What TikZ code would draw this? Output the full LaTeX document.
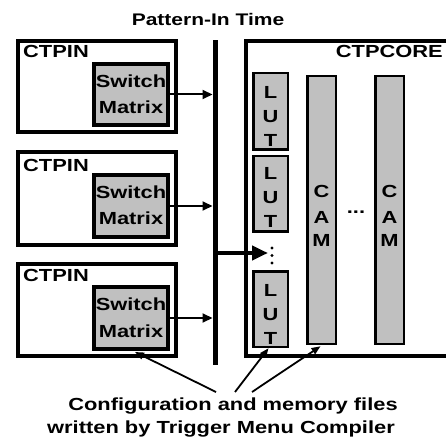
\documentclass[tikz,border=0pt]{standalone}
\usepackage{fontspec}
\setmainfont{Liberation Sans}[FakeStretch=1.25]
\usetikzlibrary{arrows.meta}
\definecolor{boxgray}{HTML}{C0C0C0}
\begin{document}
\begin{tikzpicture}[x=1pt,y=-1pt,
  txt/.style={font=\fontsize{17.5}{21}\selectfont\bfseries, inner sep=0pt, anchor=base},
  ttl/.style={font=\fontsize{16.8}{20}\selectfont\bfseries, inner sep=0pt, anchor=base},
  pinbox/.style={draw, line width=4pt, anchor=north west, inner sep=0pt, outer sep=0pt, minimum width=158pt},
  swbox/.style={draw, fill=boxgray, line width=4pt, anchor=north west, inner sep=0pt, outer sep=0pt, minimum width=74pt, minimum height=62pt},
  lutbox/.style={draw, fill=boxgray, line width=2.5pt, anchor=north west, inner sep=0pt, outer sep=0pt, minimum width=34.5pt, minimum height=75.5pt},
  cambox/.style={draw, fill=boxgray, line width=2.5pt, anchor=north west, inner sep=0pt, outer sep=0pt, minimum width=28.5pt, minimum height=267.5pt},
  thinarrow/.style={line width=2pt, -{Triangle[length=10pt,width=9pt]}},
  bigarrow/.style={line width=4.5pt, -{Triangle[length=16pt,width=14pt]}},
  cfgarrow/.style={line width=1.8pt, -{Triangle[length=9pt,width=7pt]}}]
\useasboundingbox (0,0) rectangle (446,443);

% title
\node[ttl] (title) at (208,26) {Pattern-In Time};

% CTPIN boxes
\node[pinbox, minimum height=91pt] (pin1) at (18,41.5) {};
\node[pinbox, minimum height=93pt] (pin2) at (18,152) {};
\node[pinbox, minimum height=92pt] (pin3) at (18,264) {};
\node[txt, anchor=base west] (pin1t) at (23,57.5) {CTPIN};
\node[txt, anchor=base west] (pin2t) at (23,172) {CTPIN};
\node[txt, anchor=base west] (pin3t) at (23,281.5) {CTPIN};

% switch matrices
\node[swbox, minimum height=61pt] (sw1) at (94,64) {};
\node[swbox] (sw2) at (94,175) {};
\node[swbox] (sw3) at (94,287) {};
\node[txt] (sw1a) at (131,87.5) {Switch};
\node[txt] (sw1b) at (131,114) {Matrix};
\node[txt] (sw2a) at (131,198.5) {Switch};
\node[txt] (sw2b) at (131,225) {Matrix};
\node[txt] (sw3a) at (131,310.5) {Switch};
\node[txt] (sw3b) at (131,337) {Matrix};

% bus
\node[fill, inner sep=0pt, outer sep=0pt, minimum width=5pt, minimum height=325pt] (bus) at (215,202.5) {};

% CTPCORE (open to the right)
\draw[line width=4pt] (452,41.5) -- (246,41.5) -- (246,356) -- (452,356);
\node[txt, anchor=base east] (coret) at (443,57.5) {CTPCORE};

% LUTs
\node[lutbox, minimum height=76.5pt] (lut1) at (253.25,73.25) {};
\node[lutbox] (lut2) at (253.25,156.25) {};
\node[lutbox] (lut3) at (253.25,271.25) {};
\foreach \n/\yy in {1/99,2/180,3/296}{
  \node[txt] (lut\n L) at (270.5,\yy) {L};
  \node[txt] (lut\n U) at (270.5,\yy+24) {U};
  \node[txt] (lut\n T) at (270.5,\yy+48) {T};
}

% CAMs
\node[cambox] (cam1) at (307.25,76.25) {};
\node[cambox] (cam2) at (375.25,76.25) {};
\foreach \n/\xx in {1/321.5,2/389.5}{
  \node[txt] (cam\n C) at (\xx,198) {C};
  \node[txt] (cam\n A) at (\xx,223) {A};
  \node[txt] (cam\n M) at (\xx,247) {M};
}
\node[txt] (hdots) at (356,214) {...};

% vertical dots
\foreach \yy in {248,255.5,263}{
  \fill (272,\yy) circle (1.6pt);
}
\coordinate (vd) at (268,253);

% arrows switch -> bus
\draw[thinarrow] ([xshift=2pt]sw1.east) -- (sw1.east -| bus.west);
\draw[thinarrow] ([xshift=2pt]sw2.east) -- (sw2.east -| bus.west);
\draw[thinarrow] ([xshift=2pt]sw3.east) -- (sw3.east -| bus.west);

% bus -> LUTs
\draw[bigarrow] (vd -| bus.east) -- (vd);

% bottom text
\node[txt] (cfg1) at (233,410) {Configuration and memory files};
\node[txt] (cfg2) at (221,433) {written by Trigger Menu Compiler};

\coordinate (a1) at (216,392);
\coordinate (a2) at (235,392);
\coordinate (a3) at (252,392);
\draw[cfgarrow] (a1) -- ([xshift=4pt,yshift=-3pt]sw3.south);
\draw[cfgarrow] (a2) -- ([xshift=-2pt,yshift=-1.5pt]lut3.south);
\draw[cfgarrow] (a3) -- ([xshift=-1pt,yshift=-2.5pt]cam1.south);
\end{tikzpicture}
\end{document}
